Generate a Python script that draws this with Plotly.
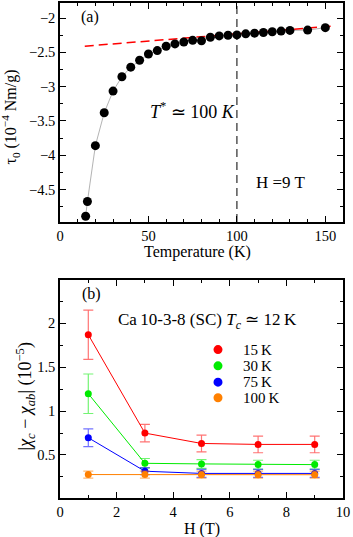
import plotly.graph_objects as go

# ---------- Panel (a) data ----------
T_a = [14.5, 15.5, 20, 25, 30, 35, 40, 45, 50, 55, 60, 65, 70, 75, 80, 85, 90, 95,
       100, 105, 110, 115, 120, 125, 130, 140, 150]
tau0 = [-4.89, -4.675, -3.86, -3.38, -3.064, -2.856, -2.716, -2.614, -2.523, -2.474,
        -2.41, -2.377, -2.348, -2.324, -2.33, -2.28, -2.26, -2.25, -2.245, -2.23,
        -2.22, -2.21, -2.2, -2.19, -2.18, -2.175, -2.14]
fit_T = [14, 153]
fit_tau = [-2.41, -2.118]
T_star = 100

# ---------- Panel (b) data ----------
H = [1, 3, 5, 7, 9]
series_names = ["15\u2009K", "30\u2009K", "75\u2009K", "100\u2009K"]
chi_15 = [1.869, 0.749, 0.631, 0.62, 0.62]
err_15 = [0.28, 0.10, 0.095, 0.095, 0.095]
chi_30 = [1.197, 0.405, 0.398, 0.39, 0.39]
err_30 = [0.225, 0.055, 0.05, 0.05, 0.05]
chi_75 = [0.696, 0.315, 0.29, 0.29, 0.29]
err_75 = [0.10, 0.04, 0.045, 0.045, 0.045]
chi_100 = [0.277, 0.277, 0.275, 0.275, 0.275]
err_100 = [0.04, 0.04, 0.04, 0.04, 0.04]

colors = ["rgb(255,0,0)", "rgb(0,235,0)", "rgb(0,0,255)", "rgb(255,128,0)"]
err_colors = ["rgba(255,0,0,0.55)", "rgba(0,235,0,0.55)", "rgba(0,0,255,0.55)", "rgba(255,128,0,0.55)"]

FONT = "Liberation Serif"
fig = go.Figure()

# Panel (a)
fig.add_trace(go.Scatter(x=T_a, y=tau0, mode="lines", line=dict(color="#a0a0a0", width=0.8),
                         xaxis="x", yaxis="y", showlegend=False, hoverinfo="skip"))
fig.add_trace(go.Scatter(x=fit_T, y=fit_tau, mode="lines",
                         line=dict(color="red", width=1.5, dash="9px,5px"),
                         xaxis="x", yaxis="y", showlegend=False))
fig.add_trace(go.Scatter(x=[T_star, T_star], y=[-4.975, -1.78], mode="lines",
                         line=dict(color="#555555", width=1.5, dash="8px,5px"),
                         xaxis="x", yaxis="y", showlegend=False))
fig.add_trace(go.Scatter(x=T_a, y=tau0, mode="markers", marker=dict(color="black", size=9),
                         xaxis="x", yaxis="y", showlegend=False))

# Panel (b)
for name, vals, errs, c, ec in zip(series_names, [chi_15, chi_30, chi_75, chi_100],
                                    [err_15, err_30, err_75, err_100], colors, err_colors):
    fig.add_trace(go.Scatter(x=H, y=vals, mode="lines+markers", name=name,
                             line=dict(color=c, width=1),
                             marker=dict(color=c, size=7),
                             error_y=dict(type="data", array=errs, color=ec, thickness=1.2, width=5),
                             xaxis="x2", yaxis="y2", showlegend=False))

axis_common = dict(showline=True, linewidth=1.5, linecolor="black", mirror="allticks",
                   ticks="inside", ticklen=6, tickwidth=1, tickcolor="black",
                   showgrid=False, zeroline=False,
                   tickfont=dict(family=FONT, size=14.5, color="black"))

W = 283.0
Htot = 497.0
top_a = 1.0
bot_a = (Htot - 220) / Htot
top_b = (Htot - 278.3) / Htot

fig.update_layout(
    width=353, height=537,
    margin=dict(l=60, r=10, t=1, b=39),
    plot_bgcolor="white", paper_bgcolor="white",
    font=dict(family=FONT, size=15, color="black"),
    showlegend=False,
    xaxis=dict(domain=[0, 1], range=[0, 160], dtick=50, anchor="y",
               minor=dict(dtick=10, ticklen=3, ticks="inside", tickcolor="black"),
               **axis_common),
    yaxis=dict(domain=[bot_a, top_a], range=[-4.975, -1.78], dtick=0.5, anchor="x",
               minor=dict(dtick=0.25, ticklen=3, ticks="inside", tickcolor="black"),
               **axis_common),
    xaxis2=dict(domain=[0, 1], range=[0, 10], dtick=2, anchor="y2",
                minor=dict(dtick=1, ticklen=3, ticks="inside", tickcolor="black"),
                **axis_common),
    yaxis2=dict(domain=[0, top_b], range=[0.01, 2.49], dtick=0.5, anchor="x2",
                tickvals=[0.5, 1, 1.5, 2], ticktext=["0.5", "1", "1.5", "2"],
                minor=dict(dtick=0.25, ticklen=3, ticks="inside", tickcolor="black"),
                **axis_common),
)

def px_x(px):
    return (px - 60) / W

def px_y(py):
    return 1 - (py - 1) / Htot

ann = [
    dict(text="(a)", x=90, y=15, size=16),
    dict(text="<i>T</i><sup>*</sup> \u2243 100 <i>K</i>", x=192, y=109, size=18),
    dict(text="H =9 T", x=281, y=181, size=17),
    dict(text="(b)", x=91, y=293, size=16),
    dict(text="Ca\u200910-3-8 (SC) <i>T</i><sub><i>c</i></sub> \u2243 12\u2009K", x=207, y=320, size=17),
    dict(text="Temperature (K)", x=197, y=251, size=16),
    dict(text="H (T)", x=202, y=529.5, size=16),
]
for a in ann:
    fig.add_annotation(text=a["text"], xref="paper", yref="paper",
                       x=px_x(a["x"]), y=px_y(a["y"]),
                       showarrow=False, xanchor="center", yanchor="middle",
                       font=dict(family=FONT, color="black", size=a["size"]))

# legend (markers + labels) for panel (b)
leg_y = [349, 365.3, 381.7, 397.3]
for name, c, ly in zip(series_names, colors, leg_y):
    fig.add_shape(type="circle", xref="paper", yref="paper",
                  xsizemode="pixel", ysizemode="pixel",
                  xanchor=px_x(218), yanchor=px_y(ly),
                  x0=-4.5, x1=4.5, y0=-4.5, y1=4.5,
                  fillcolor=c, line=dict(color=c, width=0))
    fig.add_annotation(text=name, xref="paper", yref="paper",
                       x=px_x(241), y=px_y(ly), showarrow=False,
                       xanchor="left", yanchor="middle",
                       font=dict(family=FONT, size=15, color="black"))

# y axis titles
fig.add_annotation(text="\u03c4<sub>0</sub> (10<sup>\u22124</sup> Nm/g)", xref="paper", yref="paper",
                   x=px_x(10), y=px_y(116), textangle=-90, showarrow=False,
                   xanchor="center", yanchor="middle", font=dict(family=FONT, size=16, color="black"))
fig.add_annotation(text="|<i>\u03c7</i><sub><i>c</i></sub> \u2212 <i>\u03c7</i><sub><i>ab</i></sub>| (10<sup>\u22125</sup>)",
                   xref="paper", yref="paper",
                   x=px_x(25), y=px_y(396), textangle=-90, showarrow=False,
                   xanchor="center", yanchor="middle", font=dict(family=FONT, size=18, color="black"))

fig.write_html("out.html", config={"displayModeBar": False},
               post_script="document.body.style.margin='0';document.body.style.padding='0';")
